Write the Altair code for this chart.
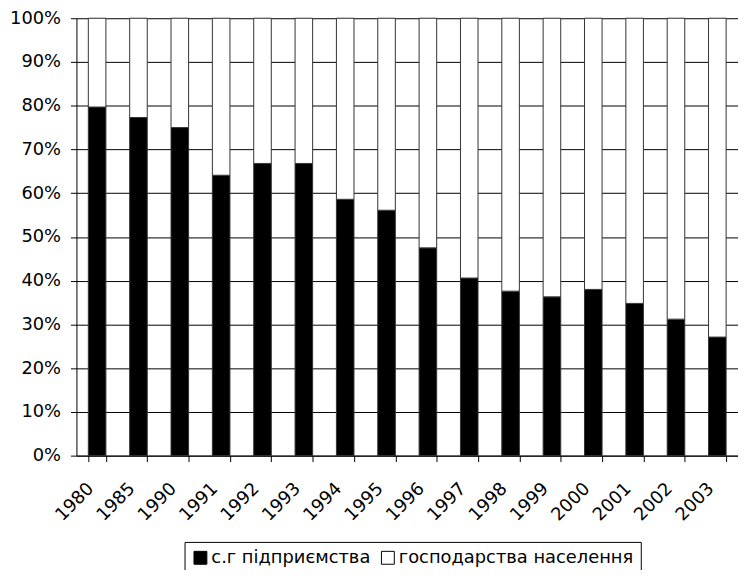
import altair as alt
import pandas as pd

years = ["1980", "1985", "1990", "1991", "1992", "1993", "1994", "1995",
         "1996", "1997", "1998", "1999", "2000", "2001", "2002", "2003"]
enterprises = [79.7, 77.3, 75.0, 64.1, 66.8, 66.8, 58.6, 56.1,
               47.5, 40.6, 37.6, 36.3, 38.0, 34.8, 31.2, 27.1]
households = [20.3, 22.7, 25.0, 35.9, 33.2, 33.2, 41.4, 43.9,
              52.5, 59.4, 62.4, 63.7, 62.0, 65.2, 68.8, 72.9]
series_names = ["с.г підприємства", "господарства населення"]
series_colors = ["#000000", "#ffffff"]
y_ticks = [0, 0.1, 0.2, 0.3, 0.4, 0.5, 0.6, 0.7, 0.8, 0.9, 1.0]

rows = []
for i, yr in enumerate(years):
    rows.append({"year": yr, "series": series_names[0], "value": enterprises[i], "ord": 0})
    rows.append({"year": yr, "series": series_names[1], "value": households[i], "ord": 1})
df = pd.DataFrame(rows)

FONT = "DejaVu Sans"

chart = alt.Chart(df).mark_bar(stroke="#333333", strokeWidth=1).encode(
    x=alt.X("year:N", sort=years, title=None,
            scale=alt.Scale(paddingInner=0.575, paddingOuter=0.2875),
            axis=alt.Axis(labelAngle=-45, tickBand="extent", tickSize=6,
                          labelPadding=18, labelOffset=-13,
                          domainColor="black", tickColor="black",
                          labelFont=FONT, labelFontSize=18, labelColor="black",
                          grid=False)),
    y=alt.Y("value:Q", stack="normalize", title=None,
            scale=alt.Scale(domain=[0, 1]),
            axis=alt.Axis(format=".0%", values=y_ticks, grid=True,
                          gridColor="black", gridWidth=1, gridOpacity=1,
                          tickSize=6, labelPadding=10,
                          domainColor="black", tickColor="black",
                          labelFont=FONT, labelFontSize=18, labelColor="black")),
    color=alt.Color("series:N",
                    scale=alt.Scale(domain=series_names, range=series_colors),
                    legend=alt.Legend(orient="none", legendX=109, legendY=528,
                                      direction="horizontal", title=None,
                                      strokeColor="black", fillColor="white",
                                      padding=7, symbolType="square",
                                      symbolSize=169, symbolStrokeColor="black",
                                      symbolStrokeWidth=1, symbolOpacity=1,
                                      labelFont=FONT, labelFontSize=18,
                                      labelColor="black", columnPadding=8,
                                      labelOffset=2, labelLimit=500)),
    order=alt.Order("ord:Q", sort="ascending"),
).properties(
    width=667, height=441,
    autosize=alt.AutoSizeParams(type="none"),
    padding={"left": 69, "top": 8, "right": 0, "bottom": 113},
).configure_view(stroke=None)

chart.save("out.html", embed_options={"renderer": "svg", "actions": False})
